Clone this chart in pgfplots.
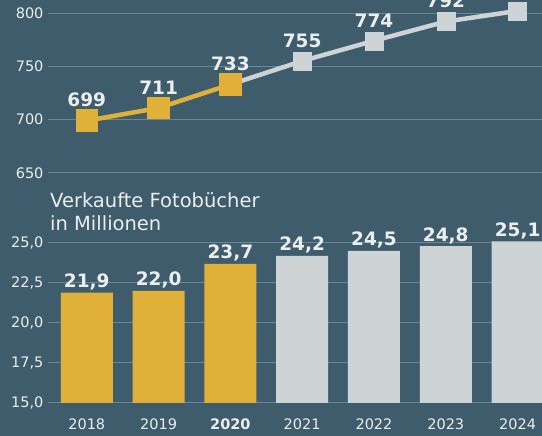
\documentclass[border=0pt]{standalone}
\usepackage{fontspec}
\setmainfont{DejaVu Sans}
\usepackage{pgfplots}
\pgfplotsset{compat=1.18}
\definecolor{bg}{RGB}{62,92,108}
\definecolor{gridc}{RGB}{108,136,150}
\definecolor{gold}{RGB}{224,176,56}
\definecolor{lgray}{RGB}{206,212,213}
\definecolor{txt}{RGB}{236,238,238}
\begin{document}
\begin{tikzpicture}[x=1pt,y=1pt]
\useasboundingbox (0,0) rectangle (542,436);
\clip (0,0) rectangle (542,436);
\fill[bg] (0,0) rectangle (542,436);
% top line chart
\begin{axis}[
  at={(48pt,263pt)}, anchor=south west,
  scale only axis, width=494pt, height=181.3pt,
  xmin=-0.54, xmax=6.34, ymin=650, ymax=820,
  axis line style={draw=none}, major tick length=0pt,
  xtick=\empty, ytick={650,700,750,800},
  ymajorgrids, grid style={gridc, line width=1pt},
  yticklabel style={font=\fontsize{14.5}{15}\selectfont, text=txt, /pgf/number format/assume math mode=true, xshift=-1pt},
  clip=false,
]
\addplot[lgray, line width=4.5pt] coordinates {(2,733)(3,755)(4,774)(5,792)(6,802)};
\addplot[lgray, only marks, mark=square*, mark size=9pt, mark options={fill=lgray, draw=none}] coordinates {(3,755)(4,774)(5,792)(6,802)};
\addplot[gold, line width=4.5pt, mark=square*, mark size=9pt, mark options={fill=gold, draw=none}] coordinates {(0,699)(1,711)(2,733)};
\addplot[only marks, mark=none, nodes near coords, point meta=y,
  every node near coord/.append style={font=\bfseries\fontsize{18.5}{19}\selectfont, text=txt, anchor=south, yshift=10pt, /pgf/number format/assume math mode=true}]
  coordinates {(0,699)(1,711)(2,733)(3,755)(4,774)(5,792)};
\end{axis}
\node[anchor=north west, align=left, inner sep=0pt, text=txt, font=\fontsize{19.5}{23}\selectfont] at (50,244) {Verkaufte Fotobücher\\in Millionen};
% bottom bar chart
\begin{axis}[
  at={(48pt,33pt)}, anchor=south west,
  scale only axis, width=494pt, height=192pt,
  xmin=-0.54, xmax=6.34, ymin=15, ymax=27,
  axis line style={draw=none}, major tick length=0pt,
  xtick={0,1,2,3,4,5,6},
  xticklabels={2018,2019,\textbf{2020},2021,2022,2023,2024},
  xticklabel style={font=\fontsize{14.5}{15}\selectfont, text=txt, yshift=-12pt},
  ytick={15,17.5,20,22.5,25},
  yticklabel style={font=\fontsize{14.5}{15}\selectfont, text=txt, xshift=-1pt,
    /pgf/number format/.cd, fixed, fixed zerofill, precision=1, use comma, assume math mode=true},
  ymajorgrids, grid style={gridc, line width=1pt},
  ybar, bar width=52pt, bar shift=0pt,
  nodes near coords,
  every node near coord/.append style={font=\bfseries\fontsize{18.5}{19}\selectfont, text=txt, yshift=-1pt,
    /pgf/number format/.cd, fixed, fixed zerofill, precision=1, use comma, assume math mode=true},
]
\addplot[fill=gold, draw=none] coordinates {(0,21.9)(1,22.0)(2,23.7)};
\addplot[fill=lgray, draw=none] coordinates {(3,24.2)(4,24.5)(5,24.8)(6,25.1)};
\end{axis}
\end{tikzpicture}
\end{document}
